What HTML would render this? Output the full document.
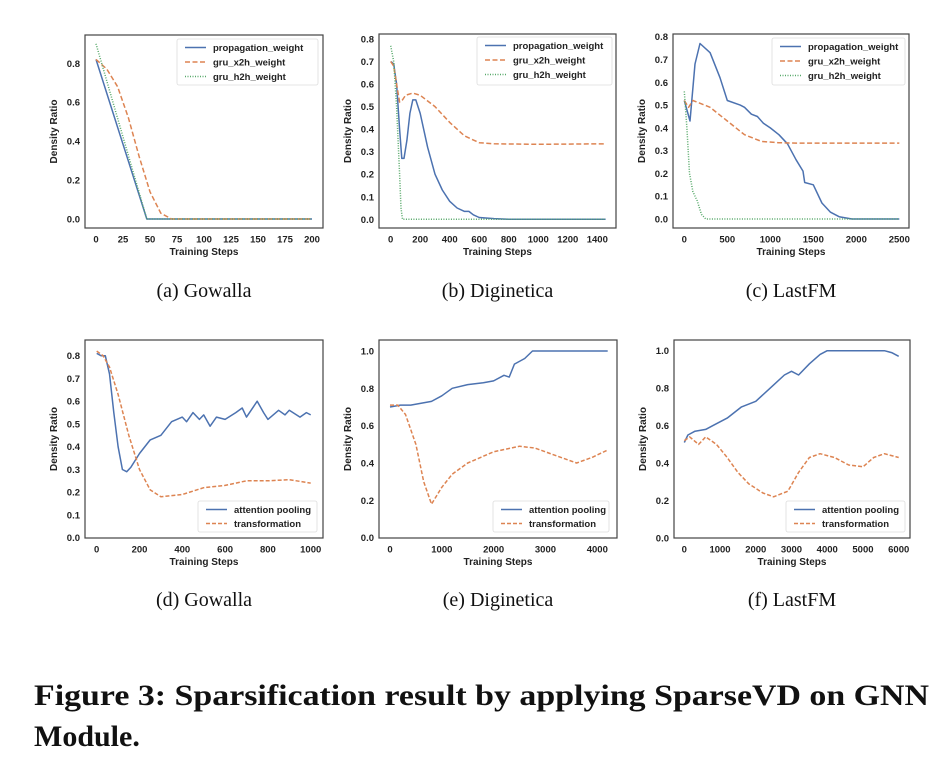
<!DOCTYPE html>
<html><head><meta charset="utf-8"><style>
html,body{margin:0;padding:0;background:#fff;}
svg{display:block;}
text{font-family:"Liberation Sans","DejaVu Sans",sans-serif;}
.tk{font-size:9.5px;font-weight:bold;fill:#222;}
.ax{font-size:10px;font-weight:bold;fill:#222;}
.lg{font-size:9.5px;font-weight:bold;fill:#222;}
.cap{font-family:"Liberation Serif",serif;font-size:20px;fill:#111;}
.fig{font-family:"Liberation Serif",serif;font-size:30px;font-weight:bold;fill:#111;}
</style></head><body>
<svg id="chart" width="950" height="764" viewBox="0 0 950 764">
<text class="fig" x="34" y="705" textLength="895" lengthAdjust="spacingAndGlyphs">Figure 3: Sparsification result by applying SparseVD on GNN</text>
<text class="fig" x="34" y="746">Module.</text>
</svg>
<script>
// ---- data ----
const aPropX=[0,47,200];
const aPropY=[0.82,0,0];
const aX2hX=[0,10,20,30,40,50,60,70,200];
const aX2hY=[0.82,0.77,0.68,0.52,0.32,0.14,0.03,0,0];
const aH2hX=[0,47,200];
const aH2hY=[0.9,0,0];

const bPropX=[0,20,40,60,75,90,110,130,150,170,200,250,300,350,400,450,500,530,560,600,700,800,1456];
const bPropY=[0.7,0.69,0.6,0.4,0.27,0.27,0.35,0.47,0.53,0.53,0.47,0.32,0.2,0.13,0.08,0.05,0.035,0.035,0.02,0.008,0.003,0,0];
const bX2hX=[0,20,40,60,80,100,150,200,300,400,500,600,700,1000,1456];
const bX2hY=[0.7,0.68,0.6,0.52,0.53,0.55,0.56,0.55,0.5,0.43,0.37,0.34,0.335,0.333,0.335];
const bH2hX=[0,20,40,60,70,80,1456];
const bH2hY=[0.77,0.7,0.5,0.2,0.05,0,0];

const cPropX=[0,66,124,182,300,415,500,650,700,780,850,920,1000,1100,1200,1300,1380,1400,1500,1600,1700,1800,1950,2500];
const cPropY=[0.52,0.43,0.68,0.77,0.73,0.62,0.52,0.5,0.49,0.46,0.45,0.42,0.4,0.37,0.33,0.26,0.21,0.16,0.15,0.07,0.03,0.01,0,0];
const cX2hX=[0,50,100,300,500,700,900,1100,1300,2500];
const cX2hY=[0.52,0.49,0.52,0.49,0.43,0.37,0.34,0.335,0.333,0.333];
const cH2hX=[0,30,60,100,150,200,250,2500];
const cH2hY=[0.56,0.4,0.2,0.12,0.08,0.02,0,0];

const dAttX=[0,20,40,60,80,100,120,140,160,180,200,250,300,350,400,420,450,480,500,530,560,600,650,680,700,750,780,800,850,880,900,950,980,1000];
const dAttY=[0.81,0.8,0.8,0.72,0.55,0.4,0.3,0.29,0.31,0.34,0.37,0.43,0.45,0.51,0.53,0.51,0.55,0.52,0.54,0.49,0.53,0.52,0.55,0.57,0.53,0.6,0.55,0.52,0.56,0.54,0.56,0.53,0.55,0.54];
const dTrX=[0,30,60,100,150,200,250,300,350,400,500,600,700,800,900,1000];
const dTrY=[0.82,0.8,0.75,0.63,0.45,0.3,0.21,0.18,0.185,0.19,0.22,0.23,0.25,0.25,0.255,0.24];

const eAttX=[0,200,400,600,800,1000,1200,1500,1800,2000,2200,2300,2400,2600,2750,4200];
const eAttY=[0.7,0.71,0.71,0.72,0.73,0.76,0.8,0.82,0.83,0.84,0.87,0.86,0.93,0.96,1.0,1.0];
const eTrX=[0,150,300,500,650,800,1000,1200,1500,2000,2500,2800,3200,3600,3900,4200];
const eTrY=[0.71,0.71,0.66,0.5,0.3,0.18,0.27,0.34,0.4,0.46,0.49,0.48,0.44,0.4,0.43,0.47];

const fAttX=[0,100,300,600,800,1200,1600,2000,2400,2800,3000,3200,3500,3800,4000,5000,5600,5800,6000];
const fAttY=[0.51,0.55,0.57,0.58,0.6,0.64,0.7,0.73,0.8,0.87,0.89,0.87,0.93,0.98,1.0,1.0,1.0,0.99,0.97];
const fTrX=[0,150,400,600,900,1200,1500,1800,2200,2500,2900,3200,3500,3800,4200,4600,5000,5300,5600,6000];
const fTrY=[0.52,0.54,0.5,0.54,0.5,0.43,0.35,0.29,0.24,0.22,0.25,0.35,0.43,0.45,0.43,0.39,0.38,0.43,0.45,0.43];

const xTicksA=[0,25,50,75,100,125,150,175,200];
const xTicksB=[0,200,400,600,800,1000,1200,1400];
const xTicksC=[0,500,1000,1500,2000,2500];
const xTicksD=[0,200,400,600,800,1000];
const xTicksE=[0,1000,2000,3000,4000];
const xTicksF=[0,1000,2000,3000,4000,5000,6000];
const yTicksA=[0,0.2,0.4,0.6,0.8];
const yTicksB=[0,0.1,0.2,0.3,0.4,0.5,0.6,0.7,0.8];
const yTicksE=[0,0.2,0.4,0.6,0.8,1.0];

const BLUE='#4c72b0',ORANGE='#dd8452',GREEN='#55a868';
const svg=document.getElementById('chart');
const NS='http://www.w3.org/2000/svg';
function mk(tag,attrs,parent){const e=document.createElementNS(NS,tag);for(const k in attrs)e.setAttribute(k,attrs[k]);(parent||svg).appendChild(e);return e;}

const panels=[
 {id:'a',cap:'(a)  Gowalla',fr:[85,323,35,228],xr:[0,96,200,312],yr:[0,219,0.8,63.3],xt:xTicksA,yt:yTicksA,
  series:[['propagation_weight',aPropX,aPropY,BLUE,''],['gru_x2h_weight',aX2hX,aX2hY,ORANGE,'5,2.5'],['gru_h2h_weight',aH2hX,aH2hY,GREEN,'1,1.5']],leg:[177,39,141,46]},
 {id:'b',cap:'(b)  Diginetica',fr:[379,616,34,228],xr:[0,390.7,1400,597.3],yr:[0,219.3,0.8,39],xt:xTicksB,yt:yTicksB,
  series:[['propagation_weight',bPropX,bPropY,BLUE,''],['gru_x2h_weight',bX2hX,bX2hY,ORANGE,'5,2.5'],['gru_h2h_weight',bH2hX,bH2hY,GREEN,'1,1.5']],leg:[477,37,135,48]},
 {id:'c',cap:'(c)  LastFM',fr:[673,909,34,228],xr:[0,684.3,2500,899.3],yr:[0,219,0.8,36.7],xt:xTicksC,yt:yTicksB,
  series:[['propagation_weight',cPropX,cPropY,BLUE,''],['gru_x2h_weight',cX2hX,cX2hY,ORANGE,'5,2.5'],['gru_h2h_weight',cH2hX,cH2hY,GREEN,'1,1.5']],leg:[772,38,133,47]},
 {id:'d',cap:'(d)  Gowalla',fr:[85,323,340,538],xr:[0,96.7,1000,310.7],yr:[0,537.7,0.8,355.7],xt:xTicksD,yt:yTicksB,
  series:[['attention pooling',dAttX,dAttY,BLUE,''],['transformation',dTrX,dTrY,ORANGE,'4,2']],leg:[198,501,119,31]},
 {id:'e',cap:'(e)  Diginetica',fr:[379,617,340,538],xr:[0,390,4000,597.3],yr:[0,537.7,1,351],xt:xTicksE,yt:yTicksE,
  series:[['attention pooling',eAttX,eAttY,BLUE,''],['transformation',eTrX,eTrY,ORANGE,'4,2']],leg:[493,501,116,31]},
 {id:'f',cap:'(f)  LastFM',fr:[674,910,340,538],xr:[0,684.3,6000,898.7],yr:[0,538,1,350.7],xt:xTicksF,yt:yTicksE,
  series:[['attention pooling',fAttX,fAttY,BLUE,''],['transformation',fTrX,fTrY,ORANGE,'4,2']],leg:[786,501,119,31]}
];

panels.forEach(p=>{
  const g=mk('g',{});
  
  
  const sx=v=>p.xr[1]+(v-p.xr[0])*(p.xr[3]-p.xr[1])/(p.xr[2]-p.xr[0]);
  const sy=v=>p.yr[1]+(v-p.yr[0])*(p.yr[3]-p.yr[1])/(p.yr[2]-p.yr[0]);
  const [l,r,t,b]=p.fr;
  const cp=mk('clipPath',{id:'clip'+p.id},g);
  mk('rect',{x:l,y:t,width:r-l,height:b-t},cp);
  p.series.forEach(s=>{
    const d=s[1].map((x,i)=>(i?'L':'M')+sx(x).toFixed(1)+','+sy(s[2][i]).toFixed(1)).join('');
    const pa=mk('path',{d:d,fill:'none',stroke:s[3],'stroke-width':1.5,'stroke-linejoin':'round','stroke-dasharray':s[4]||'none','clip-path':'url(#clip'+p.id+')'},g);
    
    
  });
  const fr=mk('rect',{x:l,y:t,width:r-l,height:b-t,fill:'none',stroke:'#444','stroke-width':1.2},g);
  
  
  const tyx=b+14.5;
  p.xt.forEach(v=>{
    const tx=mk('text',{x:sx(v),y:tyx,'text-anchor':'middle',class:'tk'},g);
    tx.textContent=String(v);
    
    
  });
  p.yt.forEach(v=>{
    const tx=mk('text',{x:l-5,y:sy(v)+3.5,'text-anchor':'end',class:'tk'},g);
    tx.textContent=v.toFixed(1);
    
    
  });
  const xt=mk('text',{x:(l+r)/2,y:b+27,'text-anchor':'middle',class:'ax'},g);
  xt.textContent='Training Steps';
  
  
  const yx=l-28, ym=(t+b)/2;
  const yt=mk('text',{x:yx,y:ym,'text-anchor':'middle',class:'ax',transform:'rotate(-90 '+yx+' '+ym+')'},g);
  yt.textContent='Density Ratio';
  
  
  const [lx,ly,lw,lh]=p.leg;
  const lb=mk('rect',{x:lx,y:ly,width:lw,height:lh,fill:'#fff',stroke:'#ddd','stroke-width':0.8,rx:2},g);
  
  
  const step=p.series.length===3?14.5:14;
  p.series.forEach((s,i)=>{
    const yy=ly+8.5+i*step;
    const ln=mk('line',{x1:lx+8,x2:lx+29,y1:yy,y2:yy,stroke:s[3],'stroke-width':1.4,'stroke-dasharray':s[4]||'none'},g);
    
    
    const tx=mk('text',{x:lx+36,y:yy+3.3,class:'lg'},g);
    tx.textContent=s[0];
    
    
  });
  const cap=mk('text',{x:(l+r)/2,y:(t<100?297:606),'text-anchor':'middle',class:'cap'},g);
  cap.textContent=p.cap;
  
  
});
</script>
</body></html>
